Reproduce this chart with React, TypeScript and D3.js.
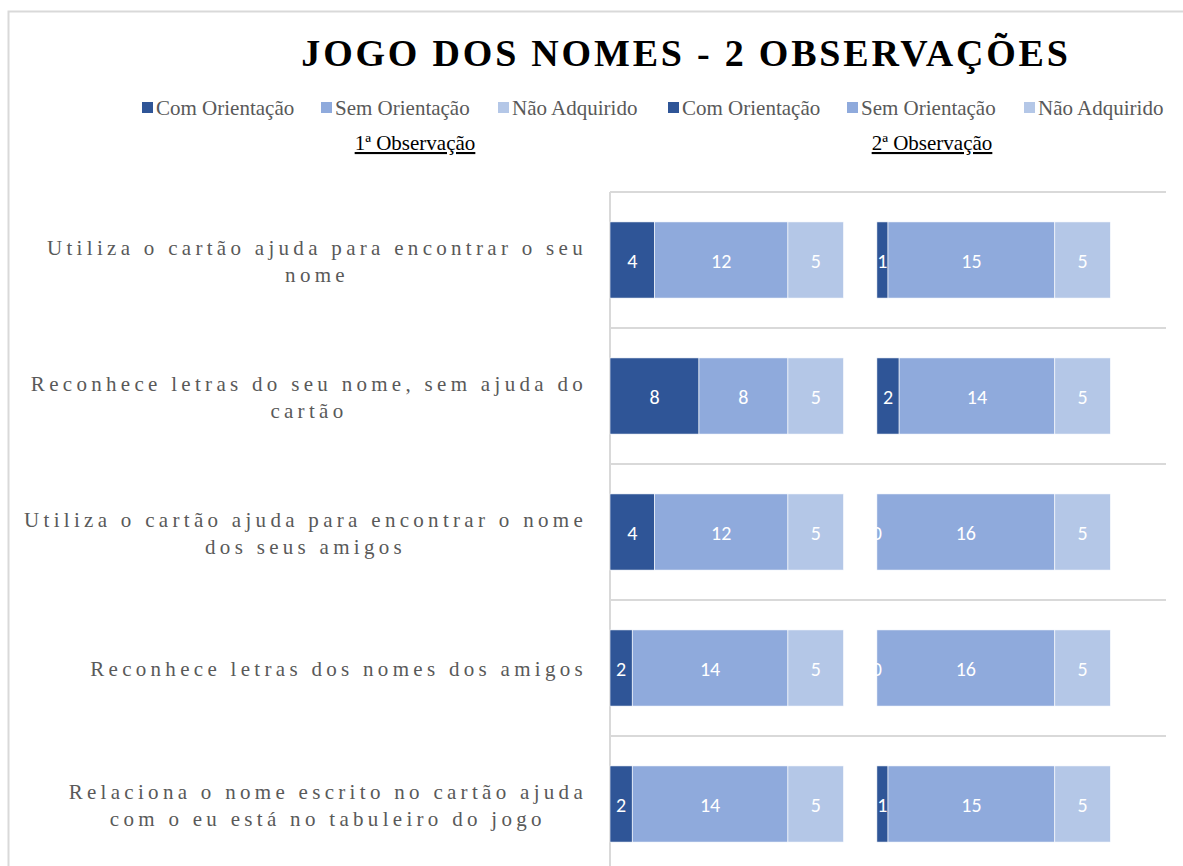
import React, { useEffect } from "react";
import * as d3 from "d3";

const categories = [
  ["Utiliza o cartão ajuda para encontrar o seu", "nome"],
  ["Reconhece letras do seu nome, sem ajuda do", "cartão"],
  ["Utiliza o cartão ajuda para encontrar o nome", "dos seus amigos"],
  ["Reconhece letras dos nomes dos amigos"],
  ["Relaciona o nome escrito no cartão ajuda", "com o eu está no tabuleiro do jogo"],
];
const seriesNames = ["Com Orientação", "Sem Orientação", "Não Adquirido"];
const obs1Com = [4, 8, 4, 2, 2];
const obs1Sem = [12, 8, 12, 14, 14];
const obs1Nao = [5, 5, 5, 5, 5];
const obs2Com = [1, 2, 0, 0, 1];
const obs2Sem = [15, 14, 16, 16, 15];
const obs2Nao = [5, 5, 5, 5, 5];
const groupOffsets = [0, 24];
const groupLabels = ["1ª Observação", "2ª Observação"];
const xMax = 50;

const colors = ["#2F5597", "#8FAADC", "#B4C7E7"];

export default function App() {
  useEffect(() => {
    document.body.style.margin = "0";
  }, []);
  const W = 1183, H = 866;
  const left = 610, right = 1166, top = 192, bottom = 872;
  const x = d3.scaleLinear().domain([0, xMax]).range([left, right]);
  const ids = categories.map((_, i) => String(i));
  const y = d3.scaleBand().domain(ids).range([top, bottom]).paddingInner(0.44).paddingOuter(0.22);
  const groups = [
    [obs1Com, obs1Sem, obs1Nao],
    [obs2Com, obs2Sem, obs2Nao],
  ];
  const bars: any[] = [];
  groups.forEach((g, gi) => {
    const rows = categories.map((_, i) => ({ id: String(i), a: g[0][i], b: g[1][i], c: g[2][i] }));
    const stack = d3.stack<any>().keys(["a", "b", "c"])(rows);
    stack.forEach((layer, si) => {
      layer.forEach((d, i) => {
        bars.push({
          key: `${gi}-${si}-${i}`,
          x0: x(d[0] + groupOffsets[gi]),
          x1: x(d[1] + groupOffsets[gi]),
          y: y(String(i))!,
          v: d[1] - d[0],
          color: colors[si],
        });
      });
    });
  });
  const serif = "'Liberation Serif', 'Times New Roman', serif";
  const legendItems = [
    { x: 142, s: 0 }, { x: 321, s: 1 }, { x: 498, s: 2 },
    { x: 668, s: 0 }, { x: 847, s: 1 }, { x: 1024, s: 2 },
  ];
  const gridYs = ids.map((id) => y(id)! - (y.step() * 0.44) / 2);
  return (
    <svg width={W} height={H} style={{ display: "block" }}>
      <rect x={0} y={0} width={W} height={H} fill="#fff" />
      <rect x={8.5} y={11.5} width={1400} height={1000} fill="none" stroke="#D9D9D9" strokeWidth={2} />
      <text x={686} y={66} textAnchor="middle" fontFamily={serif} fontWeight="bold" fontSize={38} letterSpacing={2.8} fill="#000">
        JOGO DOS NOMES - 2 OBSERVAÇÕES
      </text>
      {legendItems.map((l, i) => (
        <g key={i}>
          <rect x={l.x} y={102} width={11} height={11} fill={colors[l.s]} />
          <text x={l.x + 14} y={115} fontFamily={serif} fontSize={21} fill="#595959">{seriesNames[l.s]}</text>
        </g>
      ))}
      {groupLabels.map((g, i) => (
        <text key={g} x={[415, 932][i]} y={150} textAnchor="middle" fontFamily={serif} fontSize={21} fill="#000" textDecoration="underline">
          {g}
        </text>
      ))}
      {gridYs.map((gy, i) => (
        <line key={i} x1={left} x2={right} y1={gy} y2={gy} stroke="#D9D9D9" strokeWidth={2} />
      ))}
      <line x1={left} x2={left} y1={top} y2={H} stroke="#D9D9D9" strokeWidth={2} />
      {bars.map((b) => (
        <rect key={b.key} x={b.x0} y={b.y} width={Math.max(0, b.x1 - b.x0)} height={y.bandwidth()} fill={b.color} stroke="#fff" strokeWidth={0.6} />
      ))}
      {bars.map((b) => (
        <text key={"t" + b.key} x={(b.x0 + b.x1) / 2} y={b.y + y.bandwidth() / 2 + 8} textAnchor="middle" fontFamily="Carlito, Calibri, 'Open Sans', sans-serif" fontSize={20} fill="#fff">
          {b.v}
        </text>
      ))}
      {categories.map((lines, i) => {
        const cy = y(String(i))! + y.bandwidth() / 2;
        const lh = 27;
        const startY = cy - ((lines.length - 1) * lh) / 2 + 8;
        return (
          <g key={i}>
            {lines.map((t, j) => (
              <text key={j} className="cat" data-line={j} x={0} y={startY + j * lh} fontFamily={serif} fontSize={21} letterSpacing={4.3} fill="#595959" textAnchor="middle">
                {t}
              </text>
            ))}
          </g>
        );
      })}
      <CatAligner />
    </svg>
  );
}

function CatAligner() {
  const ref = React.useRef<SVGGElement>(null);
  useEffect(() => {
    const svg = ref.current?.ownerSVGElement;
    if (!svg) return;
    const groups = svg.querySelectorAll("g");
    groups.forEach((g) => {
      const texts = Array.from(g.querySelectorAll("text.cat")) as SVGTextElement[];
      if (!texts.length) return;
      const widths = texts.map((t) => t.getComputedTextLength());
      const maxW = Math.max(...widths);
      const cx = 587 - maxW / 2;
      texts.forEach((t) => t.setAttribute("x", String(cx)));
    });
  }, []);
  return <g ref={ref} />;
}
